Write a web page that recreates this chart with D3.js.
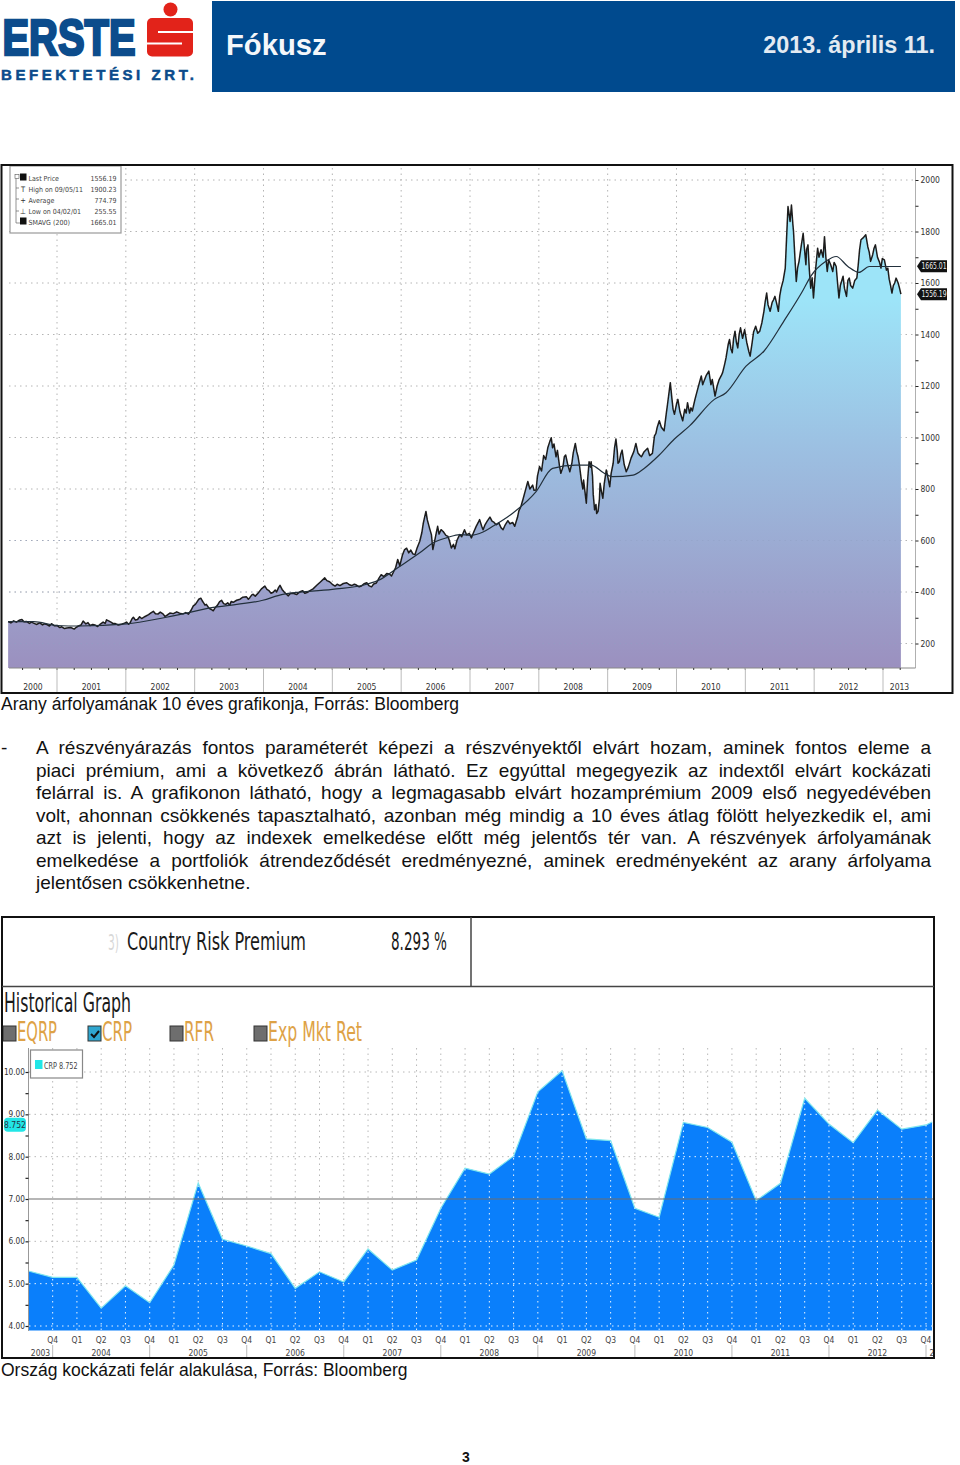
<!DOCTYPE html>
<html>
<head>
<meta charset="utf-8">
<script src="https://cdn.jsdelivr.net/npm/d3@7"></script>
<style>
html, body { margin: 0; padding: 0; background: #fff; }
svg { display: block; }
text { font-family: "Liberation Sans", Arial, sans-serif; }
.cond { font-family: "Liberation Sans Narrow", "DejaVu Sans Condensed", sans-serif; }
.tiny { font-family: "DejaVu Sans Condensed", "DejaVu Sans", sans-serif; }
</style>
</head>
<body>
<svg id="page" width="960" height="1465"></svg>
<script>
// gold price: [decimal year, usd]
const goldSeries = [[2000.29,285],[2000.33,280],[2000.37,288],[2000.41,283],[2000.45,290],[2000.49,293],[2000.52,284],[2000.56,285],[2000.60,278],[2000.63,283],[2000.66,279],[2000.70,274],[2000.75,280],[2000.79,272],[2000.82,277],[2000.85,274],[2000.89,268],[2000.92,277],[2000.96,269],
[2001.00,270],[2001.04,262],[2001.07,265],[2001.11,258],[2001.14,260],[2001.20,262],[2001.25,256],[2001.28,263],[2001.31,268],[2001.35,272],[2001.38,287],[2001.42,276],[2001.45,281],[2001.48,270],[2001.52,274],[2001.55,272],[2001.59,266],[2001.62,273],[2001.67,283],[2001.70,278],[2001.72,292],[2001.75,288],[2001.79,282],[2001.81,278],[2001.84,278],[2001.89,272],[2001.94,275],[2001.98,279],
[2002.01,283],[2002.04,275],[2002.06,279],[2002.09,296],[2002.11,302],[2002.14,291],[2002.17,293],[2002.20,304],[2002.23,297],[2002.28,305],[2002.33,312],[2002.37,320],[2002.40,325],[2002.43,316],[2002.47,315],[2002.50,322],[2002.54,315],[2002.57,305],[2002.59,308],[2002.62,314],[2002.64,318],[2002.69,316],[2002.74,323],[2002.78,318],[2002.83,315],[2002.87,320],[2002.91,314],[2002.95,330],[2002.98,346],
[2003.01,352],[2003.03,360],[2003.06,372],[2003.09,376],[2003.11,366],[2003.13,358],[2003.15,349],[2003.17,352],[2003.20,340],[2003.22,335],[2003.25,331],[2003.27,327],[2003.30,340],[2003.33,348],[2003.36,362],[2003.39,368],[2003.42,355],[2003.45,352],[2003.48,358],[2003.51,349],[2003.53,363],[2003.56,360],[2003.61,368],[2003.66,372],[2003.70,380],[2003.75,382],[2003.78,372],[2003.80,378],[2003.83,389],[2003.85,391],[2003.88,384],[2003.92,395],[2003.97,412],
[2004.02,423],[2004.05,410],[2004.08,405],[2004.11,395],[2004.14,399],[2004.17,408],[2004.19,400],[2004.22,418],[2004.24,426],[2004.27,410],[2004.30,400],[2004.33,392],[2004.36,385],[2004.39,394],[2004.43,395],[2004.48,390],[2004.53,401],[2004.57,405],[2004.60,395],[2004.64,399],[2004.67,404],[2004.72,412],[2004.77,425],[2004.83,440],[2004.89,455],[2004.92,444],[2004.96,440],
[2005.00,430],[2005.04,423],[2005.07,430],[2005.11,425],[2005.16,433],[2005.21,436],[2005.25,428],[2005.28,425],[2005.32,430],[2005.35,427],[2005.39,420],[2005.42,423],[2005.46,432],[2005.50,436],[2005.53,425],[2005.57,420],[2005.60,431],[2005.64,435],[2005.68,455],[2005.71,467],[2005.75,460],[2005.79,472],[2005.83,470],[2005.86,462],[2005.92,495],[2005.95,526],[2005.98,502],
[2006.02,545],[2006.05,565],[2006.08,570],[2006.11,552],[2006.14,563],[2006.17,548],[2006.20,545],[2006.23,570],[2006.27,597],[2006.30,630],[2006.32,665],[2006.34,690],[2006.36,713],[2006.38,680],[2006.41,650],[2006.44,622],[2006.46,565],[2006.48,590],[2006.51,630],[2006.53,655],[2006.55,625],[2006.58,642],[2006.61,635],[2006.65,620],[2006.68,616],[2006.70,600],[2006.73,571],[2006.76,585],[2006.78,568],[2006.81,600],[2006.85,623],[2006.88,615],[2006.92,642],[2006.95,622],[2006.99,628],
[2007.02,610],[2007.05,630],[2007.09,655],[2007.12,670],[2007.14,681],[2007.17,655],[2007.19,642],[2007.22,662],[2007.25,675],[2007.29,691],[2007.32,675],[2007.35,670],[2007.38,661],[2007.42,668],[2007.45,650],[2007.48,642],[2007.51,660],[2007.55,677],[2007.58,665],[2007.62,670],[2007.65,655],[2007.69,690],[2007.71,715],[2007.74,732],[2007.77,760],[2007.80,790],[2007.84,829],[2007.87,800],[2007.91,815],[2007.93,795],[2007.96,796],[2007.98,850],
[2008.01,887],[2008.04,870],[2008.07,930],[2008.10,915],[2008.13,960],[2008.16,985],[2008.18,999],[2008.20,960],[2008.22,975],[2008.25,925],[2008.27,950],[2008.30,890],[2008.32,861],[2008.35,885],[2008.37,925],[2008.39,932],[2008.42,895],[2008.45,867],[2008.48,900],[2008.50,940],[2008.53,977],[2008.55,945],[2008.57,925],[2008.59,893],[2008.61,850],[2008.62,829],[2008.64,800],[2008.65,835],[2008.67,790],[2008.69,745],[2008.71,840],[2008.73,906],[2008.75,885],[2008.76,906],[2008.78,850],[2008.79,780],[2008.81,719],[2008.83,740],[2008.84,705],[2008.86,713],[2008.88,760],[2008.89,822],[2008.91,790],[2008.93,764],[2008.95,820],[2008.98,874],
[2009.00,850],[2009.03,809],[2009.05,860],[2009.08,900],[2009.10,960],[2009.12,994],[2009.14,945],[2009.15,900],[2009.17,906],[2009.19,935],[2009.21,951],[2009.24,895],[2009.27,867],[2009.30,885],[2009.34,920],[2009.38,945],[2009.41,977],[2009.44,940],[2009.47,930],[2009.49,925],[2009.53,945],[2009.58,958],[2009.61,930],[2009.65,938],[2009.68,1006],[2009.70,1015],[2009.72,1040],[2009.75,1065],[2009.78,1040],[2009.82,1026],[2009.85,1090],[2009.87,1130],[2009.91,1213],[2009.93,1160],[2009.95,1110],[2009.97,1090],
[2010.00,1130],[2010.02,1148],[2010.05,1100],[2010.09,1065],[2010.12,1110],[2010.14,1095],[2010.16,1135],[2010.19,1095],[2010.21,1115],[2010.23,1103],[2010.27,1150],[2010.30,1180],[2010.33,1210],[2010.36,1239],[2010.38,1205],[2010.40,1219],[2010.43,1240],[2010.47,1258],[2010.50,1205],[2010.52,1225],[2010.56,1161],[2010.59,1200],[2010.62,1225],[2010.65,1240],[2010.67,1252],[2010.70,1285],[2010.72,1310],[2010.75,1360],[2010.77,1381],[2010.79,1345],[2010.81,1329],[2010.83,1385],[2010.85,1413],[2010.87,1370],[2010.89,1348],[2010.91,1400],[2010.93,1426],[2010.96,1385],[2010.99,1419],
[2011.02,1370],[2011.05,1335],[2011.07,1316],[2011.10,1370],[2011.12,1410],[2011.15,1432],[2011.18,1405],[2011.21,1413],[2011.24,1445],[2011.27,1490],[2011.29,1530],[2011.31,1561],[2011.33,1515],[2011.36,1490],[2011.39,1525],[2011.41,1535],[2011.43,1548],[2011.46,1515],[2011.48,1490],[2011.50,1550],[2011.52,1580],[2011.55,1610],[2011.58,1658],[2011.60,1780],[2011.62,1897],[2011.64,1860],[2011.65,1839],[2011.67,1903],[2011.69,1830],[2011.70,1800],[2011.72,1700],[2011.74,1606],[2011.76,1660],[2011.78,1684],[2011.81,1740],[2011.84,1793],[2011.86,1730],[2011.88,1671],[2011.89,1730],[2011.91,1748],[2011.93,1650],[2011.95,1580],[2011.97,1620],[2011.99,1542],
[2012.02,1650],[2012.05,1735],[2012.07,1700],[2012.10,1729],[2012.13,1700],[2012.15,1780],[2012.17,1700],[2012.19,1645],[2012.21,1690],[2012.24,1671],[2012.27,1645],[2012.29,1680],[2012.32,1664],[2012.34,1600],[2012.36,1542],[2012.38,1590],[2012.42,1626],[2012.44,1580],[2012.47,1548],[2012.49,1610],[2012.51,1619],[2012.53,1590],[2012.56,1580],[2012.59,1610],[2012.62,1619],[2012.64,1670],[2012.66,1730],[2012.68,1768],[2012.71,1775],[2012.75,1787],[2012.78,1740],[2012.80,1720],[2012.82,1684],[2012.85,1710],[2012.87,1735],[2012.89,1748],[2012.92,1700],[2012.95,1680],[2012.97,1658],[2012.99,1695],
[2013.02,1690],[2013.05,1650],[2013.07,1658],[2013.09,1615],[2013.11,1590],[2013.13,1561],[2013.15,1590],[2013.17,1600],[2013.19,1619],[2013.22,1600],[2013.24,1580],[2013.26,1557]];

const smaDates = [2000.29,2000.66,2001.00,2001.33,2002.01,2002.59,2003.27,2003.99,2004.28,2005.00,2005.50,2005.70,2005.95,2006.27,2006.46,2006.68,2006.85,2007.00,2007.19,2007.33,2007.62,2007.96,2008.20,2008.54,2008.76,2008.95,2009.07,2009.37,2009.53,2009.75,2009.97,2010.19,2010.55,2010.72,2011.01,2011.27,2011.56,2011.83,2011.95,2012.17,2012.32,2012.49,2012.65,2012.80,2013.09,2013.26];
const smaValues = [285,285,270,268,276,302,340,368,391,410,430,449,494,552,590,612,623,620,633,655,706,790,880,893,893,861,848,854,880,932,994,1045,1148,1174,1277,1335,1452,1568,1626,1684,1703,1664,1641,1664,1664,1664];

const goldYTicks = d3.range(200, 2001, 200);
const goldYearStarts = d3.range(2001, 2014);
const goldYearLabels = [["2000",2000.65],["2001",2001.5],["2002",2002.5],["2003",2003.5],["2004",2004.5],["2005",2005.5],["2006",2006.5],["2007",2007.5],["2008",2008.5],["2009",2009.5],["2010",2010.5],["2011",2011.5],["2012",2012.5],["2013",2013.24]];
const goldLegendRows = [["Last Price","1556.19"],["High on 09/05/11","1900.23"],["Average","774.79"],["Low on 04/02/01","255.55"],["SMAVG (200)","1665.01"]];

// country risk premium, one value per quarter from Q3 2003 (last one is the partial quarter)
const crpIndex = d3.range(0, 38).concat([37.25]);
const crpValues = [5.30,5.15,5.15,4.42,4.95,4.55,5.44,7.38,6.05,5.89,5.71,4.89,5.28,5.04,5.82,5.32,5.56,6.78,7.73,7.59,8.01,9.53,10.03,8.42,8.38,6.78,6.57,8.81,8.69,8.34,6.96,7.37,9.38,8.77,8.33,9.10,8.65,8.75,8.82];
const crpQuarters = ["Q4","Q1","Q2","Q3","Q4","Q1","Q2","Q3","Q4","Q1","Q2","Q3","Q4","Q1","Q2","Q3","Q4","Q1","Q2","Q3","Q4","Q1","Q2","Q3","Q4","Q1","Q2","Q3","Q4","Q1","Q2","Q3","Q4","Q1","Q2","Q3","Q4"];
const crpYearLabels = [["2003",0.5],["2004",3],["2005",7],["2006",11],["2007",15],["2008",19],["2009",23],["2010",27],["2011",31],["2012",35]];
const crpYearSeps = [1,5,9,13,17,21,25,29,33,37];
const crpYTicks = [4,5,6,7,8,9,10];

const paragraph = [
  "A részvényárazás fontos paraméterét képezi a részvényektől elvárt hozam, aminek fontos eleme a",
  "piaci prémium, ami a következő ábrán látható. Ez egyúttal megegyezik az indextől elvárt kockázati",
  "felárral is. A grafikonon látható, hogy a legmagasabb elvárt hozamprémium 2009 első negyedévében",
  "volt, ahonnan csökkenés tapasztalható, azonban még mindig a 10 éves átlag fölött helyezkedik el, ami",
  "azt is jelenti, hogy az indexek emelkedése előtt még jelentős tér van. A részvények árfolyamának",
  "emelkedése a portfoliók átrendeződését eredményezné, aminek eredményeként az arany árfolyama",
  "jelentősen csökkenhetne."
];

const svg = d3.select("#page");
const defs = svg.append("defs");
const blue = "#004a8e";

// the source is a soft scan, so the thin lines get a touch of blur
defs.append("filter").attr("id", "soft").append("feGaussianBlur").attr("stdDeviation", 0.35);

//Header
function drawHeader() {
  let g = svg.append("g");
  g.append("rect").attr("x", 212).attr("y", 1).attr("width", 743).attr("height", 91).attr("fill", blue);
  g.append("text").attr("x", 226).attr("y", 55).attr("font-size", 29.2).attr("font-weight", "bold").attr("fill", "#f4f7fa").text("Fókusz");
  g.append("text").attr("x", 935).attr("y", 53).attr("text-anchor", "end").attr("font-size", 23.4).attr("font-weight", "bold").attr("fill", "#e3eaf2").text("2013. április 11.");

  g.append("text").attr("x", 2.5).attr("y", 55).attr("font-size", 50).attr("font-weight", "bold")
    .attr("fill", "#0c4c8c").attr("stroke", "#0c4c8c").attr("stroke-width", 2.6)
    .attr("textLength", 133).attr("lengthAdjust", "spacingAndGlyphs").text("ERSTE");
  g.append("circle").attr("cx", 170.5).attr("cy", 9.5).attr("r", 7).attr("fill", "#e2231a");
  g.append("rect").attr("x", 147).attr("y", 18).attr("width", 46).attr("height", 38.5).attr("rx", 5).attr("fill", "#e2231a");
  g.append("path").attr("d", "M193 32H158M147 43.5H182").attr("fill", "none").attr("stroke", "#fff").attr("stroke-width", 1.8);
  g.append("text").attr("x", 1).attr("y", 80).attr("font-size", 15).attr("font-weight", "bold").attr("fill", "#0c4c8c")
    .attr("stroke", "#0c4c8c").attr("stroke-width", 0.5)
    .attr("textLength", 193).attr("lengthAdjust", "spacing").text("BEFEKTETÉSI ZRT.");
}

//Gold chart with the 200 day average
function drawGold() {
  let x = d3.scaleLinear().domain([2001, 2013]).range([57, 883]);
  let y = d3.scaleLinear().domain([200, 2000]).range([643.5, 180]);
  let bottom = 668, axisX = 915.5;
  let g = svg.append("g");

  let grad = defs.append("linearGradient").attr("id", "goldFill")
    .attr("gradientUnits", "userSpaceOnUse").attr("x1", 0).attr("x2", 0).attr("y1", 300).attr("y2", bottom);
  grad.append("stop").attr("offset", 0).attr("stop-color", "#9de4f8");
  grad.append("stop").attr("offset", 0.4).attr("stop-color", "#9cc0e2");
  grad.append("stop").attr("offset", 1).attr("stop-color", "#9b90bf");

  g.append("g").selectAll("line").data(goldYearStarts).join("line")
    .attr("x1", d => x(d)).attr("x2", d => x(d)).attr("y1", 168).attr("y2", bottom)
    .attr("stroke", "#b4b4b4").attr("stroke-dasharray", "1.5 4");
  g.append("g").selectAll("line").data(goldYTicks).join("line")
    .attr("x1", d => d > 1900 ? 125 : 9).attr("x2", axisX).attr("y1", d => y(d)).attr("y2", d => y(d))
    .attr("stroke", "#b4b4b4").attr("stroke-dasharray", "1.5 4");

  let area = d3.area().x(d => x(d[0])).y0(bottom).y1(d => y(d[1]));
  let line = d3.line().x(d => x(d[0])).y(d => y(d[1]));
  g.append("path").attr("d", area(goldSeries)).attr("fill", "url(#goldFill)");

  // dotted grid stays faintly visible through the fill
  g.append("g").selectAll("line").data(goldYTicks.filter(d => d < 800)).join("line")
    .attr("x1", 9).attr("x2", 902).attr("y1", d => y(d)).attr("y2", d => y(d))
    .attr("stroke", "#8f9fc4").attr("stroke-opacity", 0.5).attr("stroke-dasharray", "1.5 4");

  g.append("path").attr("d", line(goldSeries)).attr("fill", "none").attr("stroke", "#1c1c1c").attr("stroke-width", 1.5).attr("stroke-linejoin", "round").attr("filter", "url(#soft)");
  let smaLine = d3.line().x((d, i) => x(smaDates[i])).y(d => y(d)).curve(d3.curveMonotoneX);
  g.append("path").attr("d", smaLine(smaValues)).attr("fill", "none").attr("stroke", "#22303c").attr("stroke-width", 1.2);

  // right axis
  let yAxis = d3.axisRight(y).tickValues(d3.range(200, 2001, 100)).tickSize(3)
    .tickFormat(d => d % 200 === 0 ? d : "");
  let ax = g.append("g").attr("transform", "translate(" + axisX + ",0)").call(yAxis);
  ax.select(".domain").attr("stroke", "#b0b0b0").attr("d", "M0,168V668");
  ax.selectAll("text").attr("class", "tiny").attr("font-size", 8.5).attr("fill", "#333").attr("x", 5);
  ax.selectAll("line").attr("stroke", "#222");

  [1665.01, 1556.19].forEach(function(v) {
    let t = g.append("g").attr("transform", "translate(917," + y(v) + ")");
    t.append("path").attr("d", "M0,0L4,-6H30V6H4Z").attr("fill", "#111");
    t.append("text").attr("class", "tiny").attr("x", 4.5).attr("y", 3).attr("font-size", 8)
      .attr("textLength", 25).attr("lengthAdjust", "spacingAndGlyphs").attr("fill", "#eee").text(v.toFixed(2));
  });

  // bottom axis
  g.append("line").attr("x1", 9).attr("x2", axisX).attr("y1", bottom).attr("y2", bottom).attr("stroke", "#888");
  let quarters = d3.range(2000.5, 2013.5, 0.25);
  g.append("g").selectAll("line").data(quarters).join("line")
    .attr("x1", d => x(d)).attr("x2", d => x(d)).attr("y1", bottom).attr("y2", bottom + 2).attr("stroke", "#333");
  g.append("g").selectAll("line").data(goldYearStarts).join("line")
    .attr("x1", d => x(d)).attr("x2", d => x(d)).attr("y1", bottom).attr("y2", 692).attr("stroke", "#bbb");
  g.append("g").selectAll("text").data(goldYearLabels).join("text")
    .attr("class", "tiny").attr("x", d => x(d[1])).attr("y", 690).attr("text-anchor", "middle")
    .attr("font-size", 8.5).attr("fill", "#333").text(d => d[0]);

  // legend
  g.append("rect").attr("x", 10).attr("y", 166).attr("width", 111).attr("height", 67).attr("fill", "#fff").attr("stroke", "#999").attr("stroke-width", 1.2);
  g.append("path").attr("d", "M16,178V223H20M16,188H19M16,199H19M16,211H19").attr("fill", "none").attr("stroke", "#666").attr("stroke-width", 0.7);
  g.append("rect").attr("x", 15).attr("y", 174.5).attr("width", 4).attr("height", 4).attr("fill", "#fff").attr("stroke", "#555").attr("stroke-width", 0.6);
  goldLegendRows.forEach(function(r, i) {
    let yy = 180.5 + i * 11;
    if (i === 0 || i === 4) {
      g.append("rect").attr("x", 20).attr("y", yy - 7).attr("width", 6.5).attr("height", 7).attr("fill", "#111");
    } else {
      g.append("text").attr("class", "tiny").attr("x", 23).attr("y", yy).attr("text-anchor", "middle").attr("font-size", 7.5).attr("fill", "#333").text(["", "T", "+", "⊥"][i]);
    }
    g.append("text").attr("class", "tiny").attr("x", 28.5).attr("y", yy).attr("font-size", 7).attr("fill", "#444").text(r[0]);
    g.append("text").attr("class", "tiny").attr("x", 116.5).attr("y", yy).attr("text-anchor", "end").attr("font-size", 7).attr("fill", "#444").text(r[1]);
  });

  g.append("rect").attr("x", 1.5).attr("y", 165).attr("width", 951).attr("height", 528).attr("fill", "none").attr("stroke", "#111").attr("stroke-width", 2);
}

//Caption and justified paragraph
function drawText() {
  svg.append("text").attr("x", 1).attr("y", 710).attr("font-size", 17.55).attr("fill", "#111").text("Arany árfolyamának 10 éves grafikonja, Forrás: Bloomberg");
  svg.append("text").attr("x", 1).attr("y", 754).attr("font-size", 19).attr("fill", "#111").text("-");
  let baselines = [754.3, 776.7, 799, 821.5, 844, 866.5, 889];
  paragraph.forEach(function(s, i) {
    let t = svg.append("text").attr("x", 36).attr("y", baselines[i]).attr("font-size", 19).attr("fill", "#111").text(s);
    if (i < paragraph.length - 1) {
      let gaps = s.split(" ").length - 1;
      let extra = (895 - t.node().getComputedTextLength()) / gaps;
      t.attr("word-spacing", extra);
    }
  });
  svg.append("text").attr("x", 1).attr("y", 1376).attr("font-size", 17.5).attr("fill", "#111").text("Ország kockázati felár alakulása, Forrás: Bloomberg");
  svg.append("text").attr("x", 466).attr("y", 1462).attr("text-anchor", "middle").attr("font-size", 14).attr("font-weight", "bold").attr("fill", "#111").text("3");
}

//Country risk premium panel
function drawCrp() {
  let x = d3.scaleLinear().domain([0, 37]).range([28.4, 926]);
  let y = d3.scaleLinear().domain([4, 10]).range([1326, 1072]);
  let bottom = 1330.5, right = 933;
  let g = svg.append("g");

  let titleText = function(px, py, w, size, color, s) {
    g.append("text").attr("class", "cond").attr("x", px).attr("y", py).attr("font-size", size).attr("fill", color)
      .attr("textLength", w).attr("lengthAdjust", "spacingAndGlyphs").text(s);
  };
  titleText(108, 950, 11, 22, "#d8d8d8", "3)");
  titleText(127, 950, 179, 25, "#1a1a1a", "Country Risk Premium");
  titleText(391, 950, 56, 25, "#1a1a1a", "8.293 %");
  titleText(4, 1012, 127, 26, "#1a1a1a", "Historical Graph");

  let orange = "#dea246";
  [[3, 17, 40, "EQRP"], [88, 102, 30, "CRP"], [170, 184, 30, "RFR"], [254, 268, 94, "Exp Mkt Ret"]].forEach(function(b) {
    let on = b[3] === "CRP";
    g.append("rect").attr("x", b[0]).attr("y", 1026).attr("width", 13).attr("height", 15)
      .attr("fill", on ? "#2fa6cf" : "#6e6e6e").attr("stroke", "#333").attr("stroke-width", 1);
    if (on) {
      g.append("path").attr("d", "M91,1034l3,3l5,-6").attr("fill", "none").attr("stroke", "#111").attr("stroke-width", 2);
    }
    titleText(b[1], 1041, b[2], 26, orange, b[3]);
  });

  // grid first, so it is grey on white
  let qIdx = d3.range(1, 38);
  let grid = g.append("g");
  let drawGrid = function(sel, color) {
    sel.append("g").selectAll("line").data(qIdx).join("line")
      .attr("x1", d => x(d)).attr("x2", d => x(d)).attr("y1", 1048).attr("y2", bottom)
      .attr("stroke", color).attr("stroke-dasharray", "1.5 4");
    sel.append("g").selectAll("line").data(crpYTicks.filter(d => d !== 7)).join("line")
      .attr("x1", 29).attr("x2", right).attr("y1", d => y(d)).attr("y2", d => y(d))
      .attr("stroke", color).attr("stroke-dasharray", "1.5 4");
  };
  drawGrid(grid, "#b8b8b8");

  let area = d3.area().x((d, i) => x(crpIndex[i])).y0(bottom).y1(d => y(d));
  let line = d3.line().x((d, i) => x(crpIndex[i])).y(d => y(d));
  g.append("clipPath").attr("id", "crpClip").append("path").attr("d", area(crpValues));
  g.append("path").attr("d", area(crpValues)).attr("fill", "#0a7ffb");
  g.append("path").attr("d", line(crpValues)).attr("fill", "none").attr("stroke", "#7fe6ee").attr("stroke-width", 1.2);
  let inner = g.append("g").attr("clip-path", "url(#crpClip)");
  drawGrid(inner, "#e8f4ff");

  g.append("line").attr("x1", 29).attr("x2", right).attr("y1", y(7)).attr("y2", y(7)).attr("stroke", "#6f6f6f").attr("stroke-width", 1.2);

  // left axis
  let yAxis = d3.axisLeft(y).tickValues(d3.range(4, 10.5, 0.5)).tickSize(3)
    .tickFormat(d => Number.isInteger(d) ? d.toFixed(2) : "");
  let ax = g.append("g").attr("transform", "translate(28.5,0)").call(yAxis);
  ax.select(".domain").attr("stroke", "#999").attr("d", "M0,1048V1331");
  ax.selectAll("line").attr("stroke", "#222").attr("stroke-width", 1.2);
  ax.selectAll("text").attr("class", "tiny").attr("font-size", 8.2).attr("fill", "#333").attr("x", -3.5);

  // bottom axis
  g.append("g").selectAll("text").data(crpQuarters).join("text")
    .attr("class", "tiny").attr("x", (d, i) => x(i + 1)).attr("y", 1343).attr("text-anchor", "middle")
    .attr("font-size", 8.5).attr("fill", "#444").text(d => d);
  g.append("g").selectAll("line").data(crpYearSeps).join("line")
    .attr("x1", d => x(d)).attr("x2", d => x(d)).attr("y1", 1345).attr("y2", 1357).attr("stroke", "#bbb");
  g.append("g").selectAll("text").data(crpYearLabels).join("text")
    .attr("class", "tiny").attr("x", d => x(d[1])).attr("y", 1356).attr("text-anchor", "middle")
    .attr("font-size", 8.5).attr("fill", "#444").text(d => d[0]);
  g.append("text").attr("class", "tiny").attr("x", 929.5).attr("y", 1356).attr("font-size", 8.5).attr("fill", "#444").text("2");

  // current value tag and tooltip box
  let tagY = y(8.752);
  g.append("rect").attr("x", 4).attr("y", tagY - 7).attr("width", 22).attr("height", 14).attr("rx", 4).attr("fill", "#22e6e6");
  g.append("text").attr("class", "tiny").attr("x", 15).attr("y", tagY + 3).attr("text-anchor", "middle").attr("font-size", 8.5).attr("fill", "#234").text("8.752");
  g.append("rect").attr("x", 30.5).attr("y", 1050).attr("width", 52).attr("height", 28).attr("fill", "#fff").attr("stroke", "#888").attr("stroke-width", 1.2);
  g.append("rect").attr("x", 35).attr("y", 1060).attr("width", 7.5).attr("height", 9).attr("fill", "#22e6e6");
  g.append("text").attr("class", "tiny").attr("x", 44).attr("y", 1069).attr("font-size", 8)
    .attr("textLength", 33.5).attr("lengthAdjust", "spacingAndGlyphs").attr("fill", "#444").text("CRP 8.752");

  // panel frame
  g.append("rect").attr("x", 2).attr("y", 917).attr("width", 932).attr("height", 441).attr("fill", "none").attr("stroke", "#111").attr("stroke-width", 2);
  g.append("line").attr("x1", 2).attr("x2", 934).attr("y1", 986.5).attr("y2", 986.5).attr("stroke", "#444").attr("stroke-width", 1.5);
  g.append("line").attr("x1", 471).attr("x2", 471).attr("y1", 917).attr("y2", 986).attr("stroke", "#444").attr("stroke-width", 1.5);
}

drawHeader();
drawGold();
drawText();
drawCrp();
</script>
</body>
</html>
